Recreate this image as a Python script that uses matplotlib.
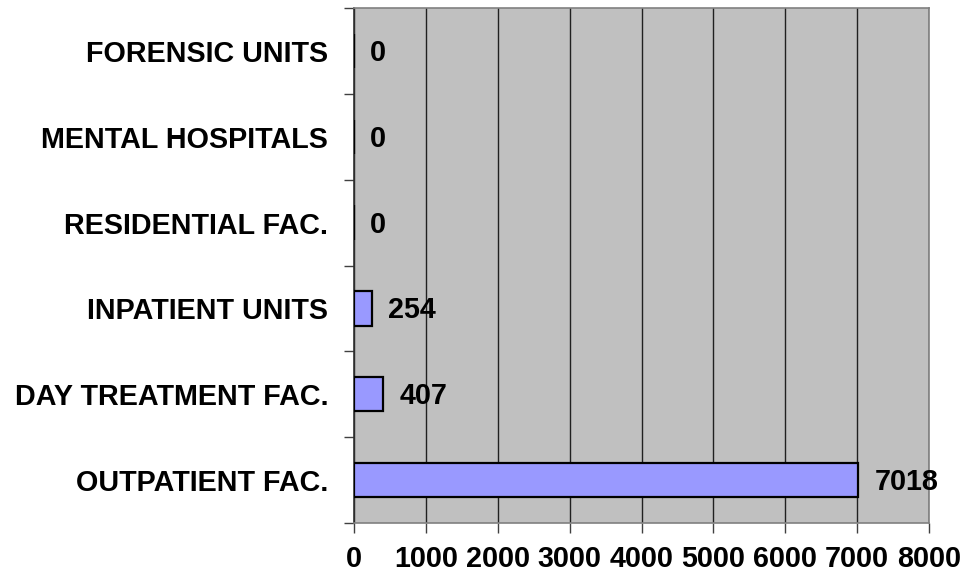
import matplotlib
matplotlib.use("Agg")
import matplotlib.pyplot as plt
import numpy as np

categories = ["OUTPATIENT FAC.", "DAY TREATMENT FAC.", "INPATIENT UNITS",
              "RESIDENTIAL FAC.", "MENTAL HOSPITALS", "FORENSIC UNITS"]
values = [7018, 407, 254, 0, 0, 0]
xticks = [0, 1000, 2000, 3000, 4000, 5000, 6000, 7000, 8000]

plt.rcParams['font.family'] = ['Liberation Sans', 'DejaVu Sans']
plt.rcParams['font.weight'] = 'bold'

FS = 20.7

fig = plt.figure(figsize=(9.64, 5.74), dpi=100)
ax = fig.add_axes([354/964, 1-523/574, (929-354)/964, (523-8)/574])
ax.set_facecolor('#C0C0C0')

y = np.arange(len(categories))
ax.barh(y, values, height=0.4, color='#9999FF', edgecolor='black', linewidth=1.6, zorder=3)

ax.set_xlim(0, 8000)
ax.set_ylim(-0.5, len(categories) - 0.5)
ax.set_xticks(xticks)
ax.set_xticklabels([str(t) for t in xticks], fontsize=FS, fontweight='bold')
ax.xaxis.grid(True, color='#202020', linewidth=1.0, zorder=1)
ax.set_axisbelow(True)

ax.set_yticks(y)
ax.set_yticklabels(categories, fontsize=FS, fontweight='bold')
ax.set_yticks(np.arange(-0.5, len(categories) + 0.5, 1), minor=True)
ax.tick_params(axis='y', which='major', length=0, pad=18.5)
ax.tick_params(axis='y', which='minor', length=7, width=1, color='#404040', direction='out')
ax.tick_params(axis='x', which='major', length=7, width=1, color='#404040', direction='out', pad=9)

for s in ['top', 'right', 'bottom']:
    ax.spines[s].set_color('#808080')
    ax.spines[s].set_linewidth(1.2)
ax.spines['left'].set_color('#303030')
ax.spines['left'].set_linewidth(1.2)

for yi, v in zip(y, values):
    ax.annotate(str(v), xy=(v, yi), xytext=(16, -2), textcoords='offset pixels',
                ha='left', va='center', fontsize=FS, fontweight='bold', zorder=4)

fig.savefig('out.png', dpi=100)
